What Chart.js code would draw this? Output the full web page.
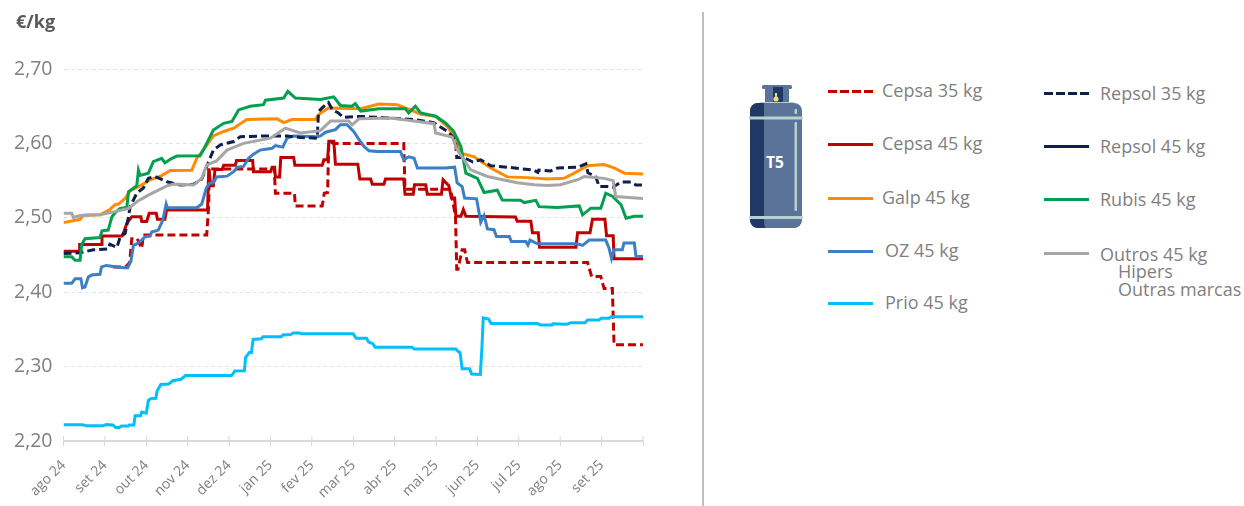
<!DOCTYPE html>
<html lang="pt">
<head>
<meta charset="utf-8">
<title>T5</title>
<script src="https://cdn.jsdelivr.net/npm/chart.js@4/dist/chart.umd.min.js"></script>
<style>
    html, body { margin: 0; padding: 0; background: #fff; }
    body { position: relative; width: 1244px; height: 506px; overflow: hidden; font-family: "Open Sans", sans-serif; color: #7f7f7f; }
    #chartBox { position: absolute; left: 0; top: 0; width: 700px; height: 506px; }
    #unit { position: absolute; left: 16px; top: 9px; font-size: 18px; font-weight: 700; color: #595959; }
    #divider { position: absolute; left: 702px; top: 12px; width: 2px; height: 494px; background: #bfbfbf; }
    #cylinder { position: absolute; left: 740px; top: 75px; }
    .key { position: absolute; width: 45px; height: 3px; }
    .txt { position: absolute; font-size: 18px; line-height: 22px; white-space: nowrap; }
</style>
</head>
<body>
<div id="chartBox"><canvas id="gasChart"></canvas></div>
<div id="unit">€/kg</div>
<div id="divider"></div>

<svg id="cylinder" width="70" height="160" viewBox="0 0 70 160">
    <rect x="22" y="10" width="30" height="4" rx="1.5" fill="#5b7299"/>
    <rect x="25" y="12" width="24" height="17" fill="#5b7299"/>
    <rect x="33" y="12" width="10" height="17" fill="#1f3864"/>
    <circle cx="36" cy="24" r="2.6" fill="#f2d97a"/>
    <rect x="35" y="18" width="2" height="6" fill="#f2d97a"/>
    <rect x="20" y="27" width="34" height="2" fill="#b8d0d0"/>
    <rect x="10" y="28" width="52" height="125" rx="8" fill="#5b7299"/>
    <path d="M24 28 H18 a8 8 0 0 0 -8 8 V145 a8 8 0 0 0 8 8 H26 q-2 -1 -2 -8 Z" fill="#1f3864"/>
    <rect x="9" y="41.5" width="54" height="3" rx="1" fill="#b8d0d0"/>
    <rect x="9" y="141" width="54" height="3" rx="1" fill="#b8d0d0"/>
    <rect x="54.5" y="47" width="2.5" height="89" rx="1" fill="#b8d0d0"/>
    <rect x="54.5" y="34" width="2.5" height="5" rx="1" fill="#b8d0d0"/>
    <text x="35" y="93" text-anchor="middle" font-size="15.5" font-weight="700" fill="#fff" font-family="Open Sans">T5</text>
</svg>

<div class="key" style="left:828px;top:90px;background:repeating-linear-gradient(90deg,#c00000 0 9px,transparent 9px 12px)"></div><div class="txt" style="left:882px;top:79px">Cepsa 35 kg</div>
<div class="key" style="left:828px;top:143px;background:#c00000"></div><div class="txt" style="left:882px;top:132px">Cepsa 45 kg</div>
<div class="key" style="left:828px;top:197px;background:#ff8c00"></div><div class="txt" style="left:882px;top:186px">Galp 45 kg</div>
<div class="key" style="left:828px;top:250px;background:#3b7fc4"></div><div class="txt" style="left:885px;top:239px">OZ 45 kg</div>
<div class="key" style="left:828px;top:302px;background:#00bfff"></div><div class="txt" style="left:885px;top:291px">Prio 45 kg</div>
<div class="key" style="left:1044px;top:92px;background:repeating-linear-gradient(90deg,#0f1f4b 0 9px,transparent 9px 12px)"></div><div class="txt" style="left:1100px;top:82px">Repsol 35 kg</div>
<div class="key" style="left:1044px;top:145px;background:#0f1f4b"></div><div class="txt" style="left:1100px;top:135px">Repsol 45 kg</div>
<div class="key" style="left:1044px;top:198px;background:#00a050"></div><div class="txt" style="left:1100px;top:188px">Rubis 45 kg</div>
<div class="key" style="left:1044px;top:252px;background:#a6a6a6"></div><div class="txt" style="left:1100px;top:243px">Outros 45 kg</div>
<div class="txt" style="left:1118px;top:260px">Hipers</div>
<div class="txt" style="left:1118px;top:278px">Outras marcas</div>

<script>
const monthLabels = ['ago 24', 'set 24', 'out 24', 'nov 24', 'dez 24', 'jan 25', 'fev 25', 'mar 25', 'abr 25', 'mai 25', 'jun 25', 'jul 25', 'ago 25', 'set 25'];
const priceTicks = [2.2, 2.3, 2.4, 2.5, 2.6, 2.7];

// [months since ago 24, €/kg]
const cepsa35 = [[1.2,2.434],[1.5,2.434],[1.6,2.44],[1.65,2.472],[1.78,2.472],[1.89,2.459],[1.93,2.477],[3.46,2.477],[3.51,2.519],[3.52,2.5665],[3.62,2.5655],[5,2.5655],[5.09,2.5665],[5.12,2.533],[5.58,2.533],[5.6,2.516],[6.25,2.516],[6.3,2.533],[6.38,2.534],[6.41,2.6025],[6.53,2.6],[8.22,2.6],[8.25,2.5385],[9.35,2.5385],[9.47,2.502],[9.5,2.431],[9.53,2.431],[9.63,2.457],[9.69,2.457],[9.76,2.44],[12.66,2.44],[12.76,2.421],[12.98,2.421],[13.06,2.405],[13.26,2.405],[13.3,2.3295],[14,2.3295]];
const cepsa45 = [[0,2.455],[.38,2.455],[.39,2.464],[.92,2.464],[.93,2.4755],[1.41,2.4755],[1.45,2.48],[1.53,2.4925],[1.65,2.5015],[1.87,2.5015],[1.89,2.495],[2.01,2.495],[2.07,2.506],[2.24,2.506],[2.27,2.498],[2.45,2.498],[2.49,2.5105],[3.48,2.5105],[3.51,2.5665],[3.56,2.543],[3.62,2.543],[3.66,2.565],[3.83,2.565],[3.87,2.5705],[4.15,2.5705],[4.18,2.577],[4.57,2.577],[4.59,2.562],[5,2.562],[5.04,2.568],[5.1,2.568],[5.12,2.555],[5.22,2.555],[5.25,2.581],[5.56,2.581],[5.59,2.5705],[6.25,2.5705],[6.29,2.578],[6.38,2.578],[6.41,2.603],[6.53,2.603],[6.57,2.572],[7.11,2.572],[7.16,2.552],[7.42,2.552],[7.46,2.545],[7.74,2.545],[7.78,2.552],[8.22,2.552],[8.25,2.5315],[8.45,2.5315],[8.48,2.5445],[8.75,2.5445],[8.79,2.5315],[9.13,2.5315],[9.17,2.551],[9.31,2.543],[9.37,2.5265],[9.45,2.5265],[9.48,2.502],[9.6,2.502],[9.66,2.511],[9.72,2.502],[10.92,2.501],[10.96,2.4955],[11.29,2.4955],[11.33,2.48],[11.47,2.48],[11.5,2.4605],[12.38,2.4605],[12.42,2.48],[12.72,2.48],[12.78,2.498],[13.08,2.498],[13.12,2.476],[13.28,2.476],[13.3,2.445],[14,2.445]];
const galp45 = [[0,2.4935],[.4,2.498],[.48,2.5035],[.88,2.504],[1.12,2.511],[1.25,2.518],[1.33,2.5185],[1.49,2.526],[1.61,2.5365],[1.85,2.543],[2.09,2.551],[2.33,2.5555],[2.58,2.5635],[3.1,2.564],[3.22,2.58],[3.38,2.591],[3.62,2.61],[3.87,2.616],[4.11,2.6205],[4.43,2.632],[5.16,2.633],[5.32,2.628],[5.52,2.632],[6.08,2.632],[6.21,2.641],[6.41,2.6475],[7.18,2.6465],[7.62,2.653],[8.06,2.652],[8.47,2.643],[8.63,2.639],[8.99,2.6365],[9.27,2.623],[9.43,2.6095],[9.6,2.587],[9.92,2.582],[10.08,2.576],[10.32,2.567],[10.72,2.555],[11.21,2.554],[11.69,2.552],[12.09,2.553],[12.34,2.56],[12.66,2.57],[13.06,2.5715],[13.3,2.567],[13.55,2.56],[14,2.559]];
const oz45 = [[0,2.412],[.2,2.412],[.28,2.418],[.42,2.418],[.46,2.406],[.52,2.407],[.6,2.4205],[.68,2.423],[.88,2.424],[.92,2.434],[1.04,2.436],[1.29,2.434],[1.45,2.433],[1.55,2.433],[1.63,2.442],[1.69,2.463],[1.77,2.465],[1.89,2.47],[1.97,2.4745],[2.09,2.4755],[2.13,2.481],[2.29,2.4835],[2.4,2.497],[2.48,2.5185],[2.51,2.5135],[3.22,2.5135],[3.34,2.5185],[3.45,2.54],[3.53,2.5465],[3.62,2.547],[3.7,2.555],[3.95,2.556],[4.11,2.562],[4.2,2.568],[4.35,2.569],[4.47,2.58],[4.59,2.5855],[4.75,2.591],[5.04,2.5935],[5.12,2.597],[5.3,2.595],[5.4,2.607],[5.56,2.61],[6.13,2.609],[6.21,2.61],[6.33,2.615],[6.57,2.6185],[6.69,2.625],[6.85,2.625],[7.01,2.616],[7.14,2.605],[7.26,2.596],[7.38,2.59],[7.58,2.589],[8.14,2.589],[8.22,2.578],[8.34,2.582],[8.47,2.58],[8.55,2.567],[9.23,2.567],[9.45,2.568],[9.51,2.547],[9.63,2.542],[9.69,2.5265],[9.98,2.5255],[10.08,2.494],[10.16,2.503],[10.2,2.495],[10.24,2.485],[10.4,2.484],[10.46,2.475],[10.77,2.475],[10.82,2.468],[11.17,2.468],[11.22,2.4635],[11.27,2.47],[11.45,2.465],[12.42,2.465],[12.54,2.463],[12.7,2.47],[13.1,2.47],[13.18,2.459],[13.24,2.4455],[13.3,2.457],[13.5,2.457],[13.54,2.466],[13.79,2.466],[13.83,2.448],[14,2.448]];
const prio45 = [[0,2.222],[.45,2.222],[.55,2.2205],[.96,2.2205],[1.03,2.222],[1.19,2.2215],[1.26,2.218],[1.34,2.218],[1.4,2.22],[1.57,2.22],[1.59,2.2215],[1.7,2.2215],[1.73,2.234],[1.86,2.234],[1.89,2.239],[2,2.2375],[2.05,2.2545],[2.11,2.257],[2.23,2.2575],[2.26,2.267],[2.35,2.276],[2.54,2.2765],[2.64,2.281],[2.84,2.283],[2.95,2.288],[4.06,2.288],[4.14,2.294],[4.37,2.2945],[4.4,2.3125],[4.49,2.319],[4.54,2.319],[4.58,2.3365],[4.78,2.3375],[4.82,2.34],[5.26,2.34],[5.3,2.3425],[5.49,2.343],[5.54,2.345],[5.71,2.345],[5.75,2.344],[7,2.344],[7.07,2.338],[7.32,2.338],[7.37,2.333],[7.47,2.331],[7.53,2.326],[8.42,2.326],[8.48,2.3235],[9.48,2.3235],[9.54,2.32],[9.58,2.319],[9.63,2.297],[9.81,2.297],[9.86,2.29],[10.07,2.2895],[10.11,2.327],[10.14,2.3655],[10.27,2.364],[10.33,2.358],[11.45,2.358],[11.52,2.356],[11.8,2.356],[11.82,2.3575],[12.16,2.357],[12.26,2.359],[12.6,2.359],[12.66,2.3625],[12.94,2.3625],[12.99,2.365],[13.18,2.365],[13.23,2.367],[14,2.367]];
const repsol35 = [[0,2.452],[.4,2.453],[.72,2.457],[1.08,2.458],[1.12,2.4645],[1.29,2.46],[1.37,2.4745],[1.49,2.479],[1.57,2.5015],[1.61,2.515],[1.77,2.533],[1.93,2.54],[2.05,2.553],[2.21,2.5555],[2.5,2.5485],[2.82,2.544],[3.14,2.545],[3.34,2.552],[3.46,2.569],[3.62,2.591],[3.79,2.598],[4.11,2.6025],[4.27,2.609],[4.91,2.61],[5.4,2.61],[5.72,2.608],[6.13,2.607],[6.16,2.643],[6.33,2.652],[6.4,2.655],[6.5,2.645],[6.64,2.641],[6.76,2.635],[7,2.636],[7.25,2.636],[7.59,2.635],[8.46,2.632],[8.94,2.628],[9.28,2.616],[9.47,2.605],[9.5,2.581],[9.67,2.581],[9.89,2.575],[10.08,2.578],[10.32,2.57],[10.73,2.568],[11.36,2.564],[11.46,2.561],[11.48,2.564],[11.77,2.563],[11.94,2.567],[12.43,2.568],[12.62,2.5725],[12.67,2.5605],[12.86,2.555],[12.94,2.542],[13.15,2.542],[13.27,2.541],[13.47,2.548],[13.71,2.548],[13.83,2.544],[14,2.544]];
const rubis45 = [[0,2.4475],[.2,2.4475],[.28,2.443],[.4,2.443],[.44,2.464],[.52,2.472],[.88,2.4735],[.93,2.4825],[1.08,2.4835],[1.17,2.5015],[1.25,2.507],[1.37,2.5125],[1.53,2.514],[1.57,2.535],[1.77,2.543],[1.81,2.564],[1.85,2.557],[2.05,2.56],[2.17,2.5755],[2.37,2.58],[2.45,2.574],[2.62,2.58],[2.74,2.583],[3.3,2.5835],[3.46,2.6],[3.62,2.618],[3.87,2.627],[4.07,2.6295],[4.23,2.645],[4.51,2.65],[4.83,2.652],[4.88,2.658],[5.32,2.661],[5.42,2.67],[5.6,2.661],[6.21,2.659],[6.53,2.6625],[6.69,2.651],[6.97,2.65],[7.05,2.6535],[7.18,2.6435],[7.62,2.6465],[8.26,2.6465],[8.34,2.641],[8.5,2.65],[8.63,2.641],[8.99,2.6365],[9.23,2.6275],[9.43,2.616],[9.6,2.596],[9.72,2.56],[10,2.553],[10.16,2.534],[10.48,2.537],[10.6,2.524],[11.04,2.5235],[11.13,2.5205],[11.41,2.5235],[11.49,2.515],[11.93,2.514],[12.46,2.516],[12.54,2.504],[12.74,2.513],[12.98,2.513],[13.1,2.533],[13.26,2.529],[13.47,2.5175],[13.59,2.4995],[13.79,2.502],[14,2.502]];
const outros45 = [[0,2.506],[.2,2.506],[.24,2.5005],[.4,2.503],[.88,2.504],[1.21,2.508],[1.57,2.5125],[1.77,2.5215],[2.05,2.5305],[2.5,2.543],[2.66,2.5455],[3.14,2.544],[3.34,2.553],[3.46,2.571],[3.7,2.5765],[3.95,2.591],[4.35,2.6],[5,2.607],[5.36,2.6205],[5.72,2.614],[6.2,2.617],[6.45,2.63],[6.89,2.63],[6.97,2.625],[7.14,2.633],[7.9,2.634],[8.47,2.63],[8.95,2.6265],[8.99,2.614],[9.39,2.6085],[9.51,2.5915],[9.84,2.5645],[10.24,2.5555],[10.96,2.547],[11.37,2.5445],[11.69,2.5435],[12.01,2.5445],[12.46,2.552],[12.58,2.5555],[13.06,2.553],[13.28,2.55],[13.34,2.5285],[14,2.526]];

function line(label, points, color, dash) {
    return {
        label: label,
        data: points.map(p => ({ x: p[0], y: p[1] })),
        borderColor: color,
        borderWidth: 3,
        borderDash: dash || [],
        pointRadius: 0,
        tension: 0,
        fill: false
    };
}

// chart.js paints the first dataset last, so reverse to keep the legend order bottom to top
const datasets = [
    line('Outros 45 kg', outros45, '#a6a6a6'),
    line('Rubis 45 kg', rubis45, '#00a050'),
    line('Repsol 35 kg', repsol35, '#0f1f4b', [8, 4]),
    line('Prio 45 kg', prio45, '#00bfff'),
    line('OZ 45 kg', oz45, '#3b7fc4'),
    line('Galp 45 kg', galp45, '#ff8c00'),
    line('Cepsa 45 kg', cepsa45, '#c00000'),
    line('Cepsa 35 kg', cepsa35, '#c00000', [8, 4])
];

// x ticks cross the axis line in the original
const tickStubs = {
    id: 'tickStubs',
    afterDraw(chart) {
        const ctx = chart.ctx;
        const x = chart.scales.x;
        ctx.save();
        ctx.strokeStyle = '#d9d9d9';
        ctx.lineWidth = 1;
        x.ticks.forEach((t, i) => {
            const px = x.getPixelForTick(i);
            ctx.beginPath();
            ctx.moveTo(px, chart.chartArea.bottom - 5);
            ctx.lineTo(px, chart.chartArea.bottom);
            ctx.stroke();
        });
        ctx.restore();
    }
};

new Chart(document.getElementById('gasChart').getContext('2d'), {
    type: 'line',
    data: { datasets: datasets },
    plugins: [tickStubs],
    options: {
        responsive: true,
        maintainAspectRatio: false,
        animation: false,
        layout: { padding: { top: 69, right: 57 } },
        plugins: {
            legend: { display: false },
            tooltip: { enabled: false }
        },
        scales: {
            x: {
                type: 'linear',
                min: 0,
                max: 14,
                afterFit(s) { s.height = 65; },
                afterBuildTicks(s) { s.ticks = Array.from({ length: 15 }, (_, i) => ({ value: i })); },
                grid: { drawOnChartArea: false, color: '#d9d9d9', tickLength: 5 },
                border: { color: '#d9d9d9', width: 2 },
                ticks: {
                    autoSkip: false,
                    minRotation: 45,
                    maxRotation: 45,
                    color: '#7f7f7f',
                    padding: 11,
                    font: { family: 'Open Sans', size: 14 },
                    callback: v => monthLabels[v] || ''
                }
            },
            y: {
                min: 2.2,
                max: 2.7,
                afterFit(s) { s.width = 63.5; },
                afterBuildTicks(s) { s.ticks = priceTicks.map(v => ({ value: v })); },
                grid: { color: '#e2e2e2', lineWidth: 1, drawTicks: false },
                border: { display: false, dash: [4, 3] },
                ticks: {
                    color: '#7f7f7f',
                    padding: 11,
                    font: { family: 'Open Sans', size: 19.5 },
                    callback: v => v.toFixed(2).replace('.', ',')
                }
            }
        }
    }
});
</script>
</body>
</html>
